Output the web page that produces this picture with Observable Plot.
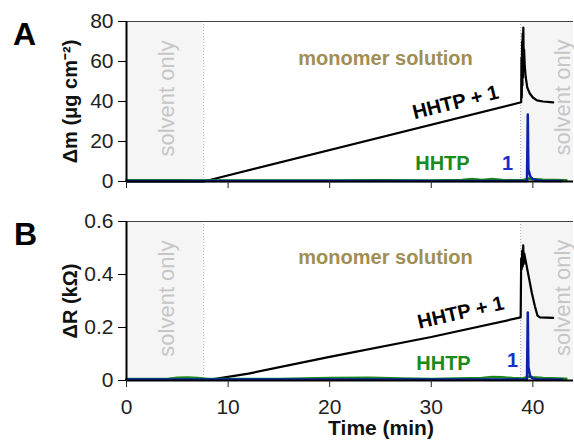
<!DOCTYPE html>
<html>
<head>
<meta charset="utf-8">
<script src="https://cdn.jsdelivr.net/npm/d3@7"></script>
<script src="https://cdn.jsdelivr.net/npm/@observablehq/plot@0.6"></script>
<style>
  body { margin: 0; background: white; }
  #wrap { position: relative; width: 574px; height: 440px; overflow: hidden; font-family: "Liberation Sans", Arial, sans-serif; }
  .panel-letter { position: absolute; font-size: 32px; font-weight: bold; line-height: 32px; color: #000; }
  svg { display: block; }
</style>
</head>
<body>
<div id="wrap">
  <div class="panel-letter" style="left:13px; top:18px;">A</div>
  <div class="panel-letter" style="left:14px; top:218px;">B</div>
  <div id="top"></div>
  <div id="bottom"></div>
</div>
<script>
// ---------- Data ----------
const xTicks = [0, 10, 20, 30, 40];
const massTicks = [0, 20, 40, 60, 80];
const resTicks = [0, 0.2, 0.4, 0.6];

// shaded "solvent only" periods (min)
const solventStart = [0, 38.8];
const solventEnd = [7.6, 44];

// Panel A: mass change (µg cm^-2)
const massBothT = [0, 7.6, 38.85, 38.88, 38.91, 38.94, 38.97, 39.0, 39.03, 39.06, 39.1, 39.14, 39.2, 39.3, 39.45, 39.7, 40.0, 40.4, 41.0, 42.0];
const massBoth  = [0, 0, 39.6, 62, 42, 70, 48, 74, 52, 77, 60, 66, 58, 52, 47, 44, 42, 40.6, 40, 39.6];

const massHHTPT = [0, 5, 10, 15, 20, 25, 30, 33, 34, 35, 36, 37, 38, 39, 39.6, 40, 41, 42, 43.3];
const massHHTP  = [0.6, 0.6, 0.5, 0.5, 0.5, 0.6, 0.5, 0.8, 1.2, 0.7, 1.2, 0.8, 0.6, 0.6, 1.5, 1.2, 0.9, 0.8, 0.6];

const massOneT = [0, 10, 20, 30, 38, 39.42, 39.5, 39.56, 39.75, 40.0, 40.4, 41, 42.9];
const massOne  = [0.2, 0.2, 0.2, 0.2, 0.2, 0.3, 33.5, 6, 2.5, 1.2, 0.6, 0.3, 0.2];

// Panel B: resistance change (kΩ)
const resBothT = [0, 8.6, 12, 20, 30, 38.8, 38.85, 38.9, 38.95, 39.0, 39.05, 39.1, 39.15, 39.3, 39.6, 39.9, 40.2, 40.45, 40.7, 42.0];
const resBoth  = [0.005, 0.005, 0.026, 0.089, 0.164, 0.238, 0.46, 0.42, 0.49, 0.43, 0.51, 0.44, 0.48, 0.45, 0.39, 0.33, 0.28, 0.245, 0.238, 0.236];

const resHHTPT = [0, 4, 5, 6, 7, 8, 15, 20, 24, 27, 30, 35, 36, 37, 38, 39, 39.6, 40, 41, 43.3];
const resHHTP  = [0.006, 0.006, 0.01, 0.011, 0.009, 0.006, 0.006, 0.009, 0.01, 0.008, 0.006, 0.009, 0.013, 0.012, 0.009, 0.008, 0.015, 0.012, 0.009, 0.007];

const resOneT = [0, 10, 20, 30, 38, 39.42, 39.5, 39.56, 39.75, 40.0, 40.4, 41, 42.9];
const resOne  = [0.004, 0.004, 0.004, 0.004, 0.004, 0.005, 0.257, 0.05, 0.015, 0.008, 0.005, 0.004, 0.004];

// ---------- Build ----------
const pts = (t, v) => t.map((x, i) => ({t: x, v: v[i]}));
const shades = solventStart.map((s, i) => ({x1: s, x2: solventEnd[i]}));
const FONT = "Liberation Sans, Arial, sans-serif";
const GREY_TXT = "#c6c6c6";
const OLIVE = "#a08e55";
const GREEN = "#1b8a1b";
const BLUE = "#1630c8";
const BLUE_LINE = "#0c22a8";

function panel(opts) {
  const {height, marginTop, marginBottom, yMax, yTicks, yFmt, both, hhtp, one, labels, yLabel, showX} = opts;
  const marks = [
    Plot.rect(shades, {x1: "x1", x2: "x2", y1: 0, y2: yMax, fill: "#f5f5f5"}),
    Plot.ruleX([solventEnd[0], solventStart[1]], {stroke: "#aaa", strokeWidth: 1, strokeDasharray: "1,2"}),
    Plot.text(labels.solvent, {x: "t", y: "v", text: () => "solvent only", rotate: -90, fill: GREY_TXT, fontSize: 22, fontFamily: FONT}),
    Plot.text([labels.monomer], {x: "t", y: "v", text: () => "monomer solution", fill: OLIVE, fontSize: 20, fontWeight: "bold", fontFamily: FONT}),
    Plot.text([labels.both], {x: "t", y: "v", text: () => "HHTP + 1", rotate: labels.both.rot, fill: "#000", fontSize: 20, fontWeight: "bold", fontFamily: FONT}),
    Plot.text([labels.hhtp], {x: "t", y: "v", text: () => "HHTP", fill: GREEN, fontSize: 20, fontWeight: "bold", fontFamily: FONT}),
    Plot.text([labels.one], {x: "t", y: "v", text: () => "1", fill: BLUE, fontSize: 20, fontWeight: "bold", fontFamily: FONT}),
    Plot.line(both, {x: "t", y: "v", stroke: "#000", strokeWidth: 2.2}),
    Plot.line(hhtp, {x: "t", y: "v", stroke: GREEN, strokeWidth: 2.5}),
    Plot.line(one, {x: "t", y: "v", stroke: BLUE_LINE, strokeWidth: 2.5}),
    Plot.ruleY([yMax], {stroke: "#444", strokeWidth: 1.2}),
    Plot.ruleX([0], {stroke: "#000", strokeWidth: 2}),
    Plot.ruleY([0], {stroke: "#000", strokeWidth: 2}),
    Plot.axisY({ticks: yTicks, tickFormat: yFmt, tickSize: 8, tickPadding: 5, fontSize: 21, label: null, stroke: "#000", color: "#222"}),
    Plot.axisX({ticks: xTicks, tickSize: 7, tickPadding: 12, fontSize: 21, label: null, tickFormat: showX ? (d => String(d)) : (() => ""), color: "#222"}),
    Plot.text([yLabel], {frameAnchor: "left", dx: -56, textAnchor: "middle", lineAnchor: "middle", text: d => d, rotate: -90, fontSize: 20, fontWeight: "bold", fontFamily: FONT, fill: "#111"})
  ];
  if (showX) {
    marks.push(Plot.text(["Time (min)"], {frameAnchor: "bottom", dx: 31, dy: 40, lineAnchor: "top", text: d => d, fontSize: 21, fontWeight: "bold", fontFamily: FONT, fill: "#111"}));
  }
  return Plot.plot({
    width: 574,
    height,
    marginLeft: 126,
    marginRight: 1,
    marginTop,
    marginBottom,
    x: {domain: [0, 44]},
    y: {domain: [0, yMax]},
    style: {fontFamily: FONT, fontSize: "21px", background: "white", overflow: "visible"},
    marks
  });
}

const topPlot = panel({
  height: 200, marginTop: 21, marginBottom: 19, yMax: 80, yTicks: massTicks, yFmt: d => String(d),
  both: pts(massBothT, massBoth), hhtp: pts(massHHTPT, massHHTP), one: pts(massOneT, massOne),
  yLabel: "Δm (μg cm⁻²)", showX: false,
  labels: {
    solvent: [{t: 4.0, v: 41.5}, {t: 42.95, v: 42}],
    monomer: {t: 25.5, v: 61.5},
    both: {t: 32.4, v: 39.5, rot: -14},
    hhtp: {t: 31.1, v: 9},
    one: {t: 37.5, v: 9}
  }
});

const bottomPlot = panel({
  height: 240, marginTop: 21, marginBottom: 60, yMax: 0.6, yTicks: resTicks, yFmt: d => String(d),
  both: pts(resBothT, resBoth), hhtp: pts(resHHTPT, resHHTP), one: pts(resOneT, resOne),
  yLabel: "ΔR (kΩ)", showX: true,
  labels: {
    solvent: [{t: 4.0, v: 0.309}, {t: 42.95, v: 0.312}],
    monomer: {t: 25.5, v: 0.462},
    both: {t: 32.9, v: 0.256, rot: -13},
    hhtp: {t: 31.2, v: 0.065},
    one: {t: 38.0, v: 0.076}
  }
});

document.getElementById("top").appendChild(topPlot);
document.getElementById("bottom").appendChild(bottomPlot);
</script>
</body>
</html>
